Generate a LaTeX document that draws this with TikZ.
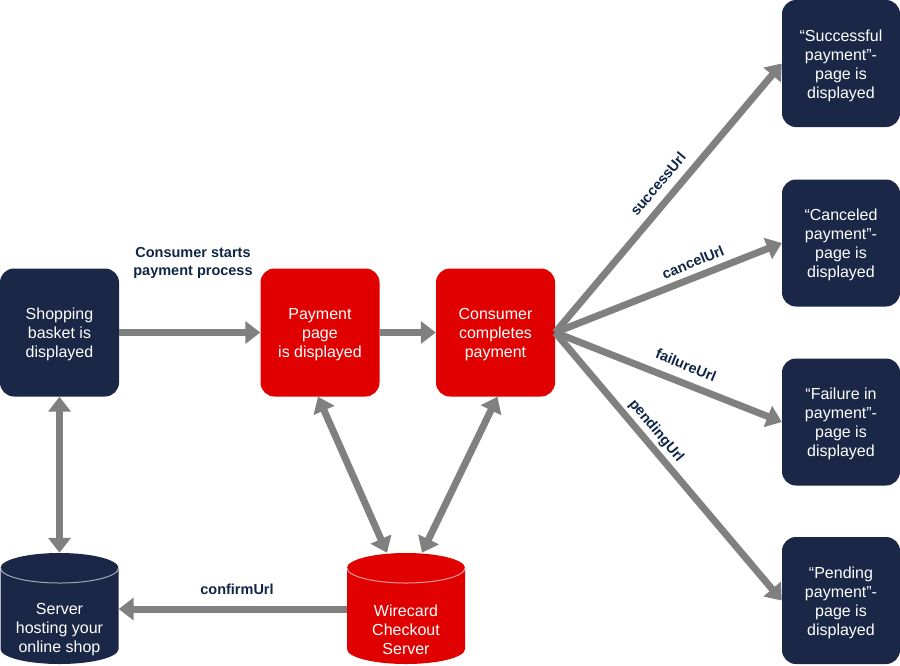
\documentclass[tikz,border=0pt]{standalone}
\usepackage{fontspec}
\setmainfont{Liberation Sans}
\usetikzlibrary{arrows.meta,calc}
\definecolor{navy}{HTML}{1A2746}
\definecolor{wred}{HTML}{E00000}
\definecolor{agray}{HTML}{808080}
\definecolor{lblnavy}{HTML}{0F2648}
\begin{document}
\begin{tikzpicture}[x=1pt,y=-1pt,
 box/.style={rounded corners=14pt, minimum width=119pt, minimum height=128pt, inner sep=0pt, align=center, text=white, font=\fontsize{16}{19}\selectfont},
 navybox/.style={box, fill=navy},
 redbox/.style={box, fill=wred},
 arr/.style={draw=agray, line width=7pt, -{Triangle[width=22pt,length=15pt]}},
 darr/.style={draw=agray, line width=7pt, {Triangle[width=22pt,length=15pt]}-{Triangle[width=22pt,length=15pt]}},
 lbl/.style={text=lblnavy, font=\fontsize{14.5}{18}\selectfont\bfseries, align=center, inner sep=0pt},
 cyltxt/.style={text=white, font=\fontsize{16}{19}\selectfont, align=center, inner sep=0pt},
 cylgeo/.style={minimum width=118pt, minimum height=112pt, inner sep=0pt},
 btxt/.style={text=white, font=\fontsize{16}{19}\selectfont, align=center, inner sep=0pt},
]
\useasboundingbox (0,0) rectangle (900,665);

% cylinders
\foreach \cx/\col in {59.5/navy,406/wred}{
  \fill[\col] (\cx-59,568) -- (\cx-59,649) arc[start angle=180,end angle=0,x radius=59,y radius=15]
     -- (\cx+59,568) arc[start angle=0,end angle=-180,x radius=59,y radius=15] -- cycle;
  \draw[white, opacity=0.6, line width=1pt] (\cx-59,568) arc[start angle=180,end angle=0,x radius=59,y radius=15];
}
\node[cylgeo] (srv) at (59.5,609) {};
\node[cylgeo] (wire) at (406,609) {};
\node[cyltxt] (srvt) at (59.5,630) {Server\\hosting your\\online shop};
\node[cyltxt] (wiret) at (406,630) {Wirecard\\Checkout\\Server};

% boxes
\node[navybox] (shop) at (59.5,332.5) {};
\node[redbox] (pay) at (320,332.5) {};
\node[redbox] (cons) at (495.5,332.5) {};
\node[navybox, minimum width=118pt, minimum height=127pt] (succ) at (841,63.5) {};
\node[navybox, minimum width=118pt, minimum height=127pt] (canc) at (841,243) {};
\node[navybox, minimum width=118pt, minimum height=127pt] (fail) at (841,422) {};
\node[navybox, minimum width=118pt, minimum height=127pt] (pend) at (841,600.5) {};
\node[btxt] (shopt) at ($(shop)+(0,2)$) {Shopping\\basket is\\displayed};
\node[btxt] (payt) at ($(pay)+(0,2)$) {Payment\\page\\is displayed};
\node[btxt] (const) at ($(cons)+(0,2)$) {Consumer\\completes\\payment};
\node[btxt] (succt) at ($(succ)+(0,2)$) {“Successful\\payment”-\\page is\\displayed};
\node[btxt] (canct) at ($(canc)+(0,2)$) {“Canceled\\payment”-\\page is\\displayed};
\node[btxt] (failt) at ($(fail)+(0,2)$) {“Failure in\\payment”-\\page is\\displayed};
\node[btxt] (pendt) at ($(pend)+(0,2)$) {“Pending\\payment”-\\page is\\displayed};

% connectors
\draw[arr] (shop.east) -- (pay.west);
\draw[arr] (pay.east) -- (cons.west);
\draw[darr] (shop.south) -- (srv.north);
\draw[darr] ($(pay.south)+(-2,0)$) -- ($(wire.north)+(-19,0)$);
\draw[darr] ($(cons.south)+(2,0)$) -- ($(wire.north)+(16,0)$);
\draw[arr] (wire.west) -- (srv.east);
\foreach \t in {succ,canc,fail,pend} \draw[arr] (cons.east) -- (\t.west);

% labels
\node[lbl] (lstart) at (193,263) {Consumer starts\\payment process};
\node[lbl] (lconf) at (237,589) {confirmUrl};
\node[lbl, rotate=50] (lsucc) at (658,184) {successUrl};
\node[lbl, rotate=22] (lcanc) at (693,262) {cancelUrl};
\node[lbl, rotate=-22] (lfail) at (686,365) {failureUrl};
\node[lbl, rotate=-50] (lpend) at (656,431) {pendingUrl};
\end{tikzpicture}
\end{document}
